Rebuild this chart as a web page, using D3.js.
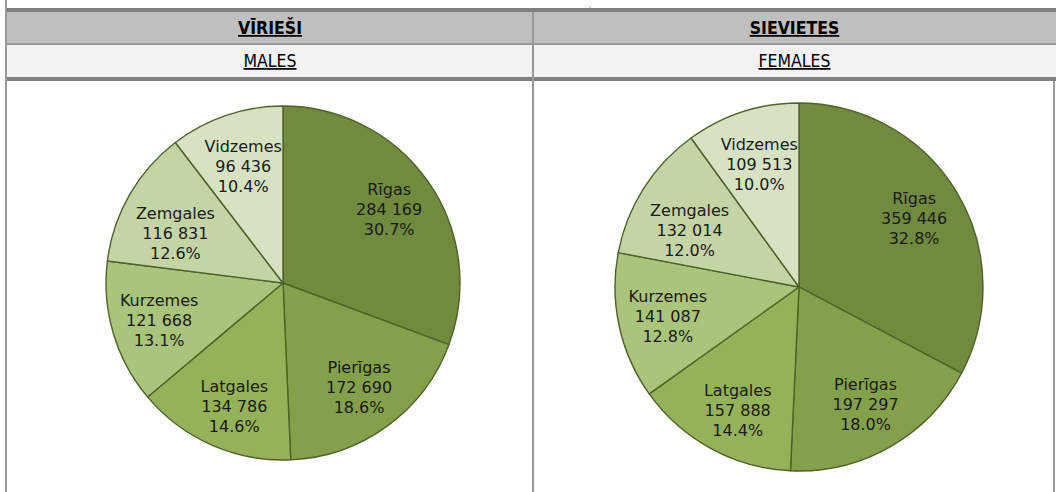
<!DOCTYPE html>
<html>
<head>
<meta charset="utf-8">
<script src="https://cdn.jsdelivr.net/npm/d3@7"></script>
<style>
  body { margin: 0; background: #fff; }
  svg { display: block; }
  .hdr { font-family: "DejaVu Sans Condensed", "DejaVu Sans", sans-serif; fill: #000; text-decoration: underline; }
  .lbl { font-family: "DejaVu Sans", Verdana, sans-serif; font-size: 16px; fill: #1a1a1a; }
</style>
</head>
<body>
<div id="chart"></div>
<script>
const svgWidth = 1056;
const svgHeight = 492;

// data
const regions = ["Rīgas", "Pierīgas", "Latgales", "Kurzemes", "Zemgales", "Vidzemes"];
const malesValues = [284169, 172690, 134786, 121668, 116831, 96436];
const malesPct = [30.7, 18.6, 14.6, 13.1, 12.6, 10.4];
const femalesValues = [359446, 197297, 157888, 141087, 132014, 109513];
const femalesPct = [32.8, 18.0, 14.4, 12.8, 12.0, 10.0];
const headersLv = ["VĪRIEŠI", "SIEVIETES"];
const headersEn = ["MALES", "FEMALES"];

const colors = ["#718a3e", "#84a04b", "#96b258", "#aac47b", "#c3d4a5", "#d6e2c2"];
// label placement inside each slice (fraction of radius, turn in degrees)
const labelRadius = [0.73, 0.73, 0.745, 0.73, 0.67, 0.70];
const labelTurn = [0, 0, -2, 0, -5, 0];

const svg = d3.select("#chart")
    .append("svg")
    .attr("width", svgWidth)
    .attr("height", svgHeight);

// table frame
const colX = [7, 533, 1056];
svg.append("rect").attr("x", 7).attr("y", 12).attr("width", svgWidth - 7).attr("height", 31).attr("fill", "#bfbfbf");
svg.append("rect").attr("x", 7).attr("y", 45).attr("width", svgWidth - 7).attr("height", 32).attr("fill", "#f2f2f2");
svg.append("rect").attr("x", 7).attr("y", 8).attr("width", svgWidth - 7).attr("height", 4).attr("fill", "#808080");
svg.append("rect").attr("x", 7).attr("y", 43).attr("width", svgWidth - 7).attr("height", 2).attr("fill", "#999999");
svg.append("rect").attr("x", 7).attr("y", 77).attr("width", svgWidth - 7).attr("height", 4).attr("fill", "#808080");
svg.append("rect").attr("x", 5).attr("y", 0).attr("width", 2).attr("height", svgHeight).attr("fill", "#999999");
svg.append("rect").attr("x", 532).attr("y", 12).attr("width", 2).attr("height", svgHeight - 12).attr("fill", "#999999");
svg.append("rect").attr("x", 1053).attr("y", 81).attr("width", 2).attr("height", svgHeight - 81).attr("fill", "#999999");

// tail of the title line above the table
svg.append("text")
    .attr("x", 590).attr("y", 7)
    .attr("font-family", "DejaVu Sans, sans-serif")
    .attr("font-size", 7)
    .attr("fill", "#333")
    .attr("text-anchor", "middle")
    .text(",");

headersLv.forEach((t, i) => {
    const cx = (colX[i] + colX[i + 1]) / 2;
    svg.append("text")
        .attr("class", "hdr")
        .attr("x", cx).attr("y", 34)
        .attr("text-anchor", "middle")
        .attr("font-size", 17.5)
        .attr("font-weight", "bold")
        .text(t);
    svg.append("text")
        .attr("class", "hdr")
        .attr("x", cx).attr("y", 67)
        .attr("text-anchor", "middle")
        .attr("font-size", 17.5)
        .text(headersEn[i]);
});

const pie = d3.pie().sort(null).value(d => d.value);
const fmt = d3.format(",d");
const fmtNum = v => fmt(v).replace(/,/g, " ");

function drawPie(values, pcts, cx, cy, r) {
    const data = regions.map((name, i) => ({ name: name, value: values[i], pct: pcts[i], color: colors[i], i: i }));
    const arcs = pie(data);
    const arc = d3.arc().innerRadius(0).outerRadius(r);

    const g = svg.append("g").attr("transform", `translate(${cx}, ${cy})`);

    g.selectAll("path")
        .data(arcs)
        .enter()
        .append("path")
        .attr("d", arc)
        .attr("fill", d => d.data.color)
        .attr("stroke", "#4f6228")
        .attr("stroke-width", 1.4)
        .attr("stroke-linejoin", "round");

    const labelXY = d => {
        const a = (d.startAngle + d.endAngle) / 2 + labelTurn[d.data.i] * Math.PI / 180;
        const lr = r * labelRadius[d.data.i];
        return [lr * Math.sin(a), -lr * Math.cos(a)];
    };

    const labels = g.selectAll("text")
        .data(arcs)
        .enter()
        .append("text")
        .attr("class", "lbl")
        .attr("text-anchor", "middle")
        .attr("transform", d => `translate(${labelXY(d)})`);

    labels.append("tspan").attr("x", 0).attr("y", -14).text(d => d.data.name);
    labels.append("tspan").attr("x", 0).attr("y", 6).text(d => fmtNum(d.data.value));
    labels.append("tspan").attr("x", 0).attr("y", 26).text(d => d.data.pct.toFixed(1) + "%");
}

drawPie(malesValues, malesPct, 283, 283, 177);
drawPie(femalesValues, femalesPct, 799, 287, 184);
</script>
</body>
</html>
